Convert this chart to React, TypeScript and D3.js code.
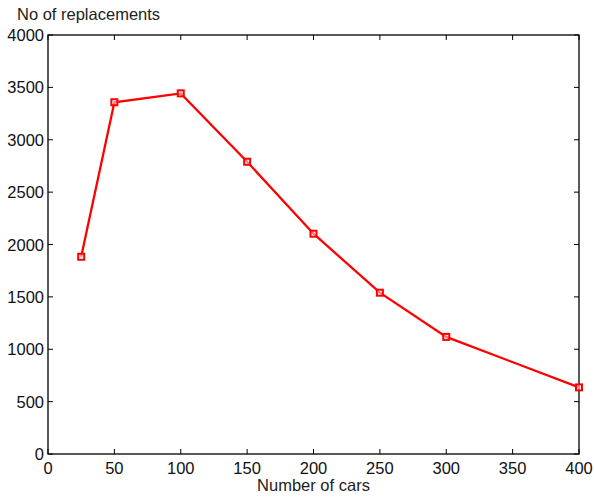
import React from "react";
import * as d3 from "d3";

const cars = [25, 50, 100, 150, 200, 250, 300, 400];
const replacements = [1883, 3358, 3443, 2790, 2103, 1540, 1118, 636];
const xTicks = [0, 50, 100, 150, 200, 250, 300, 350, 400];
const yTicks = [0, 500, 1000, 1500, 2000, 2500, 3000, 3500, 4000];

export default function App() {
  const W = 594, H = 499;
  const left = 48, right = 579, top = 35, bottom = 454;
  const x = d3.scaleLinear().domain([0, 400]).range([left, right]);
  const y = d3.scaleLinear().domain([0, 4000]).range([bottom, top]);
  const line = d3.line<number>().x((_, i) => x(cars[i])).y((d) => y(d));
  const font = "Liberation Sans, Arial, Helvetica, sans-serif";
  const fs = 16.5;
  const tl = 5;
  return (
    <svg width={W} height={H} style={{ position: "absolute", left: 0, top: 0 }}>
      <rect x={0} y={0} width={W} height={H} fill="white" />
      <rect x={left} y={top} width={right - left} height={bottom - top} fill="none" stroke="black" strokeWidth={1.3} />
      {xTicks.map((t) => (
        <g key={"x" + t}>
          <line x1={x(t)} x2={x(t)} y1={bottom} y2={bottom - tl} stroke="black" strokeWidth={1} />
          <line x1={x(t)} x2={x(t)} y1={top} y2={top + tl} stroke="black" strokeWidth={1} />
          <text x={x(t)} y={474} textAnchor="middle" fontFamily={font} fontSize={fs} fill="#111">{t}</text>
        </g>
      ))}
      {yTicks.map((t) => (
        <g key={"y" + t}>
          <line x1={left} x2={left + tl} y1={y(t)} y2={y(t)} stroke="black" strokeWidth={1} />
          <line x1={right} x2={right - tl} y1={y(t)} y2={y(t)} stroke="black" strokeWidth={1} />
          <text x={44} y={y(t) + 6} textAnchor="end" fontFamily={font} fontSize={fs} fill="#111">{t}</text>
        </g>
      ))}
      <path d={line(replacements) || ""} fill="none" stroke="#ff0000" strokeWidth={2.3} />
      {replacements.map((v, i) => (
        <rect key={i} x={x(cars[i]) - 3} y={y(v) - 3} width={6} height={6} fill="white" fillOpacity={0.5} stroke="#ff0000" strokeWidth={2} />
      ))}
      <text x={17} y={19.5} fontFamily={font} fontSize={fs} fill="#222">No of replacements</text>
      <text x={(left + right) / 2} y={491} textAnchor="middle" fontFamily={font} fontSize={fs} fill="#222">Number of cars</text>
    </svg>
  );
}
